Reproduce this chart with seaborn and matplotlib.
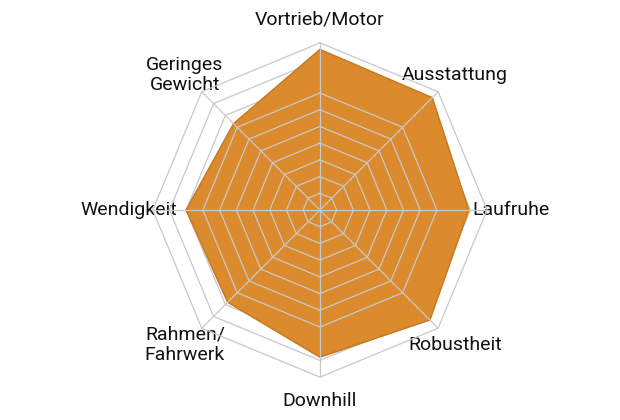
import numpy as np
import matplotlib
matplotlib.use("Agg")
import matplotlib.pyplot as plt
import seaborn as sns

sns.set_style("white")
plt.rcParams['font.family'] = ['Roboto', 'DejaVu Sans']

categories = ["Vortrieb/Motor", "Ausstattung", "Laufruhe", "Robustheit",
              "Downhill", "Rahmen/\nFahrwerk", "Wendigkeit", "Geringes\nGewicht"]
values = [9.6, 9.5, 8.9, 9.3, 8.8, 7.8, 8.0, 7.3]
levels = list(range(1, 11))

n = len(categories)
ang = np.linspace(0, 2*np.pi, n, endpoint=False)
angc = np.append(ang, ang[0])

fig = plt.figure(figsize=(6.2, 4.2), dpi=100)
ax = fig.add_axes([0.516 - 0.3, 0.5 - 0.4, 0.6, 0.8], projection='polar')
ax.set_theta_offset(np.pi/2)
ax.set_theta_direction(-1)
ax.set_ylim(0, 10.05)
ax.grid(False)
ax.spines['polar'].set_visible(False)
ax.set_yticks([])
ax.set_xticks(ang)
ax.set_xticklabels(categories, fontsize=14, color='#111111')
ax.tick_params(axis='x', pad=6)

vc = np.append(values, values[0])
ax.fill(angc, vc, color='#dc8a2e', zorder=2)
ax.plot(angc, vc, color='#c97a22', lw=1, zorder=3)
for lv in levels:
    ax.plot(angc, [lv]*(n+1), color='#c8c8c8', lw=0.9, zorder=4 if lv < 8 else 1)
for a in ang:
    ax.plot([a, a], [0, 10], color='#c8c8c8', lw=0.9, zorder=4)

fig.savefig("out.png", dpi=100, facecolor='white')
